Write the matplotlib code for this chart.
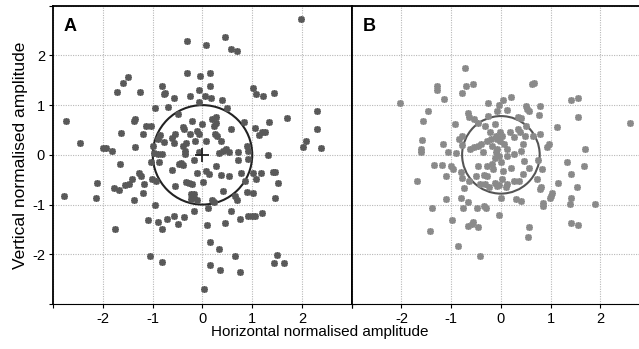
import numpy as np
import matplotlib
matplotlib.use("Agg")
import matplotlib.pyplot as plt
from matplotlib.patches import Circle

plt.rcParams['font.family'] = ['Liberation Sans', 'DejaVu Sans']

# panel A: horizontal / vertical normalised amplitude
ax_a_x = [1.99, -0.32, 0.07, 0.46, 0.57, 0.69, -0.32, -0.05, 0.15, -1.49,
          -1.60, -1.72, -1.25, -0.81, -0.78, -0.75, -0.58, -0.26, -0.07, 0.15,
          0.05, 0.17, 0.39, -0.07, 0.50, 1.02, 1.08, 1.21, 1.43, -0.96,
          -0.69, 1.70, 2.30, 2.30, -2.75, -2.46, -1.95, -1.82, -1.36, -1.64,
          -1.38, -1.36, -1.20, -1.13, -1.04, -0.86, -0.89, -1.00, -0.77, -0.49,
          -0.37, -0.40, -0.22, -0.01, -0.12, -0.07, -0.25, -0.55, -0.61, -0.58,
          -0.40, -0.36, -0.34, -0.16, 0.07, 0.24, 0.20, 0.27, 0.27, 0.26,
          0.29, 0.37, 0.58, 0.84, 1.05, 1.14, 1.20, 1.25, 1.33, 0.89,
          2.09, 2.03, 2.39, -0.97, -0.90, -0.81, -1.04, -0.88, -0.44, -0.36,
          -0.18, -0.08, 0.42, 0.34, 0.54, 0.47, 0.71, 0.91, 0.91, 0.72,
          1.31, -1.66, -2.00, -2.13, -2.14, -2.79, -1.78, -1.67, -1.55, -1.48,
          -1.41, -1.27, -1.24, -1.17, -1.20, -1.37, -1.02, -0.94, -0.62, -0.47,
          -0.40, -0.56, -0.34, -0.27, -0.22, -0.12, 0.01, 0.08, 0.13, 0.27,
          0.37, 0.54, 0.77, 0.86, 1.02, 1.08, 1.17, 1.41, 1.46, 1.52,
          1.45, 0.89, 1.01, 0.42, 0.66, 0.69, -0.24, -0.18, -0.20, -0.12,
          -0.24, 0.20, 0.12, 0.24, -0.96, -1.10, -0.89, -0.81, -0.72, -0.57,
          -0.49, -0.37, -0.17, 0.09, 0.45, 0.57, 0.76, 0.91, 0.99, 1.06,
          1.20, -1.76, -1.06, -0.82, 0.15, 0.33, 0.65, 0.16, 0.35, 0.75,
          1.50, 1.43, 1.64, 0.04]
ax_a_y = [2.73, 2.29, 2.20, 2.38, 2.13, 2.08, 1.65, 1.58, 1.65, 1.56,
          1.45, 1.27, 1.27, 1.38, 1.22, 1.25, 1.15, 1.19, 1.31, 1.38,
          1.18, 1.14, 1.10, 1.07, 0.94, 1.35, 1.22, 1.19, 1.25, 0.94,
          0.96, 0.75, 0.88, 0.53, 0.69, 0.24, 0.14, 0.07, 0.15, 0.44,
          0.68, 0.72, 0.42, 0.58, 0.58, 0.40, 0.32, 0.18, 0.25, 0.82,
          0.53, 0.57, 0.69, 0.63, 0.48, 0.42, 0.41, 0.42, 0.33, 0.24,
          0.18, 0.08, 0.24, 0.28, 0.27, 0.59, 0.72, 0.77, 0.64, 0.42,
          0.37, 0.28, 0.52, 0.67, 0.55, 0.40, 0.45, 0.45, 0.67, 0.18,
          0.28, 0.16, 0.13, 0.03, 0.01, 0.01, -0.15, -0.15, -0.17, 0.01,
          -0.11, 0.05, 0.08, 0.03, 0.05, 0.11, 0.06, 0.08, -0.09, -0.11,
          -0.01, -0.18, 0.13, -0.56, -0.86, -0.83, -0.66, -0.71, -0.61, -0.59,
          -0.49, -0.36, -0.42, -0.58, -0.76, -0.90, -0.48, -0.53, -0.31, -0.19,
          -0.20, -0.63, -0.54, -0.57, -0.59, -0.36, -0.55, -0.32, -0.39, -0.22,
          -0.41, -0.42, -0.37, -0.53, -0.36, -0.49, -0.36, -0.34, -0.34, -0.56,
          -0.86, -0.75, -0.77, -0.73, -0.83, -0.90, -0.78, -0.79, -0.84, -0.90,
          -0.88, -0.90, -1.06, -0.94, -1.00, -1.32, -1.35, -1.49, -1.30, -1.23,
          -1.40, -1.25, -1.13, -1.42, -1.37, -1.13, -1.30, -1.22, -1.23, -1.23,
          -1.17, -1.50, -2.03, -2.16, -1.75, -1.89, -2.03, -2.21, -2.32, -2.35,
          -2.01, -2.18, -2.18, -2.70]

# panel B
ax_b_x = [-2.03, -0.72, -1.29, -1.29, -0.70, -0.57, -0.79, -1.14, -1.46, -1.57,
          -0.66, -0.65, -0.92, -0.55, -0.26, -0.25, -0.08, 0.04, 0.20, 0.13,
          -0.03, 0.62, 0.67, 0.50, 0.52, 0.57, 0.78, 0.77, 0.41, 0.34,
          1.40, 1.55, 1.55, 1.12, 2.60, -1.58, -1.61, -1.61, -1.17, -1.07,
          -0.91, -0.79, -0.79, -0.62, -0.54, -0.46, -0.40, -0.35, -0.27, -0.22,
          -0.12, -0.10, -0.01, 0.03, -0.07, -0.09, 0.07, 0.13, 0.26, 0.34,
          0.38, 0.48, 0.45, 0.40, 0.64, 0.79, 0.96, 0.92, 1.70, 1.32,
          1.40, 1.68, 1.53, -1.69, -1.34, -1.18, -1.01, -0.96, -1.10, -0.81,
          -0.79, -0.65, -0.74, -0.46, -0.50, -0.34, -0.28, -0.42, -0.17, 0.00,
          0.04, 0.20, -0.12, -0.04, 0.03, 0.10, 0.44, 0.36, 0.57, 0.47,
          0.74, 0.83, 0.72, 0.81, 0.79, 1.15, 1.02, 0.99, 1.01, -1.10,
          -1.38, -0.81, -0.67, -0.77, -0.49, -0.34, -0.30, 0.01, 0.30, 0.41,
          0.84, 0.84, 1.38, 1.41, 1.89, -0.99, -1.42, -0.66, -0.59, -0.56,
          -0.46, -0.04, 0.56, 0.54, 1.40, 1.55, -0.86, -0.43, -0.19, -0.17,
          -0.07, -0.01, -0.03, -0.11, 0.13, -0.15, -0.27, 0.19, 0.27, 0.50,
          -0.32, -0.23, -0.07, 0.13, 0.27, -0.47, -0.31, -0.84]
ax_b_y = [1.05, 1.74, 1.39, 1.31, 1.39, 1.42, 1.25, 1.13, 0.88, 0.68,
          0.85, 0.77, 0.62, 0.72, 1.05, 0.79, 0.89, 1.11, 1.16, 0.91,
          1.00, 1.42, 1.45, 0.99, 0.93, 0.89, 0.99, 0.80, 0.75, 0.77,
          1.10, 1.15, 0.77, 0.57, 0.65, 0.30, 0.11, 0.06, 0.22, 0.05,
          0.03, 0.38, 0.19, 0.11, 0.15, 0.18, 0.21, 0.05, 0.28, 0.45,
          0.62, 0.38, 0.45, 0.38, 0.11, 0.06, 0.21, 0.11, 0.01, 0.52,
          0.46, 0.38, 0.21, 0.08, 0.37, 0.42, 0.21, 0.15, 0.11, -0.15,
          -0.39, -0.22, -0.64, -0.52, -0.20, -0.20, -0.22, -0.29, -0.42, -0.34,
          -0.47, -0.52, -0.66, -0.22, -0.42, -0.40, -0.42, -0.58, -0.19, -0.15,
          -0.32, -0.27, -0.56, -0.60, -0.49, -0.64, -0.39, -0.52, -0.26, -0.12,
          -0.10, -0.29, -0.49, -0.64, -0.68, -0.57, -0.76, -0.86, -0.83, -0.88,
          -1.06, -0.86, -0.95, -1.06, -1.06, -1.03, -1.06, -0.87, -0.89, -0.93,
          -0.96, -1.03, -0.98, -0.87, -0.98, -1.31, -1.54, -1.43, -1.40, -1.35,
          -1.46, -1.21, -1.46, -1.66, -1.38, -1.42, -1.83, -2.03, 0.32, 0.18,
          0.32, 0.28, -0.02, -0.07, -0.02, -0.29, -0.22, 0.45, 0.35, 0.58,
          -0.59, -0.64, -0.62, -0.59, -0.52, 0.65, 0.58, 0.32]

ticks = [-3, -2, -1, 0, 1, 2, 3]
tick_labels = ['', '-2', '-1', '0', '1', '2', '']

fig = plt.figure(figsize=(6.39, 3.49), dpi=100)
W, H = 639.0, 349.0
ax_a = fig.add_axes([53.3 / W, (H - 304) / H, 298.4 / W, 298.3 / H])
ax_b = fig.add_axes([351.7 / W, (H - 304) / H, 298.4 / W, 298.3 / H])


def style_axes(ax, left_labels):
    ax.set_xlim(-3, 3)
    ax.set_ylim(-3, 3)
    ax.set_xticks(ticks)
    ax.set_xticklabels(tick_labels)
    ax.set_yticks(ticks)
    ax.set_yticklabels(tick_labels if left_labels else [])
    ax.grid(True, color='#b8b8b8', linestyle=(0, (1, 1.2)), linewidth=0.8)
    ax.set_axisbelow(True)
    ax.tick_params(direction='out', length=3, width=0.8, labelsize=10.5,
                   pad=3, colors='black')
    for side in ['left', 'right', 'top']:
        ax.spines[side].set_linewidth(1.3)
    ax.spines['bottom'].set_linewidth(0.8)


style_axes(ax_a, True)
style_axes(ax_b, False)
ax_b.tick_params(axis='y', length=0)
ax_a.tick_params(axis='y', right=True)

ax_a.plot(ax_a_x, ax_a_y, linestyle='none', marker=(8, 2, 0), ms=5,
          mew=1.2, color='#595959')
ax_a.add_patch(Circle((0, 0), 1.0, fill=False, ec='#222222', lw=1.5))
ax_a.plot([0], [0], marker='+', ms=10, mew=1.3, color='#222222')

ax_b.plot(ax_b_x, ax_b_y, linestyle='none', marker=(8, 2, 0), ms=5,
          mew=1.2, color='#8a8a8a')
ax_b.add_patch(Circle((0, 0), 0.78, fill=False, ec='#555555', lw=1.5))

ax_a.text(0.033, 0.93, 'A', transform=ax_a.transAxes, fontsize=13,
          fontweight='bold', va='center', ha='left')
ax_b.text(0.038, 0.93, 'B', transform=ax_b.transAxes, fontsize=13,
          fontweight='bold', va='center', ha='left')

ax_a.set_ylabel('Vertical normalised amplitude', fontsize=12.5, labelpad=3)
fig.text(320 / W, 1 - 332 / H, 'Horizontal normalised amplitude',
         fontsize=11, ha='center', va='center')

fig.savefig('out.png', dpi=100)
